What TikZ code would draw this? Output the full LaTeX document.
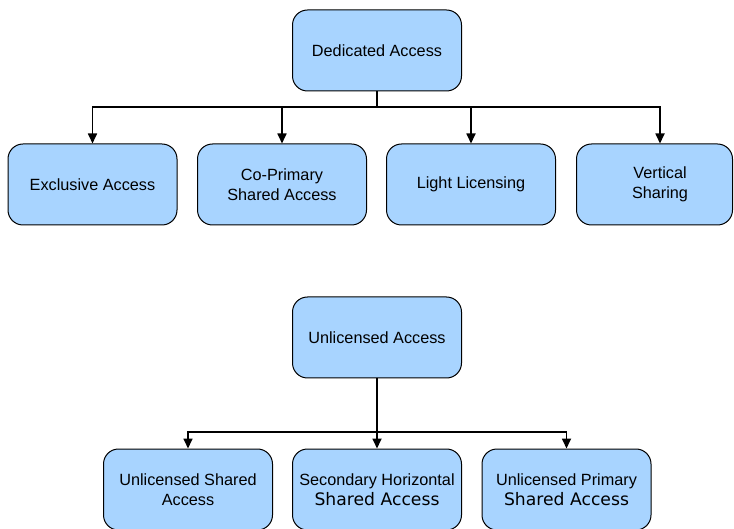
\documentclass[tikz,border=0pt]{standalone}
\usepackage{fontspec}
\setmainfont{Liberation Sans}
\newfontfamily\widefont{DejaVu Sans}
\usetikzlibrary{arrows.meta}
\definecolor{boxblue}{RGB}{168,212,255}

\begin{document}
\begin{tikzpicture}[x=1pt,y=1pt]
\tikzstyle{box}=[draw=black, line width=1pt, fill=boxblue, rounded corners=15pt,
  minimum width=169pt, minimum height=81pt, inner sep=0pt, align=center,
  font=\fontsize{16.25}{20}\selectfont]
\tikzstyle{link}=[draw=black, line width=1.7pt, -{Triangle[length=10pt,width=9pt]}]
\useasboundingbox (0,0) rectangle (734,-529);
% licensed side
\node[box] (da) at (377,-50.5) {Dedicated Access};
\node[box] (ea) at (92.5,-184.5) {Exclusive Access};
\node[box] (cp) at (282,-184.5) {Co-Primary\\Shared Access};
\node[box] (ll) at (471,-184.5) {Light Licensing};
\node[box, minimum width=156pt] (vs) at (654.5,-184.5) {\hspace*{11pt}Vertical\\\hspace*{11pt}Sharing};
\coordinate (dj) at (377,-107);
\draw[line width=1.7pt] (da.south) -- (dj);
\draw[link] (dj) -| (ea.north);
\draw[link] (dj) -| (cp.north);
\draw[link] (dj) -| (ll.north);
\draw[link] (dj) -| ([xshift=5.5pt]vs.north);
% unlicensed side
\node[box] (ua) at (377,-337.5) {Unlicensed Access};
\node[box] (us) at (188,-489.5) {Unlicensed Shared\\Access};
\node[box] (sh) at (377,-489.5) {Secondary Horizontal\\{\widefont\fontsize{17.2}{20}\selectfont Shared Access}};
\node[box] (up) at (566.5,-489.5) {Unlicensed Primary\\{\widefont\fontsize{17.2}{20}\selectfont Shared Access}};
\coordinate (uj) at (377,-432);
\draw[link] (ua.south) -- (sh.north);
\draw[link] (uj) -| (us.north);
\draw[link] (uj) -| (up.north);
\end{tikzpicture}
\end{document}
